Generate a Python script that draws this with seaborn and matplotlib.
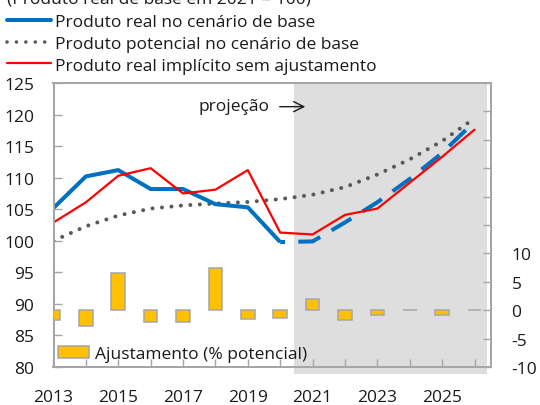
import matplotlib
matplotlib.use("Agg")
import matplotlib.pyplot as plt
import matplotlib.transforms as mtransforms
from matplotlib.patches import Rectangle, Patch
from matplotlib.lines import Line2D
import seaborn as sns
import pandas as pd

# ---- data ----
years = list(range(2013, 2027))
real_base = [105.2, 110.2, 111.2, 108.2, 108.2, 105.8, 105.3, 99.8,
             99.9, 102.9, 106.1, 109.8, 113.9, 118.9]
potential_base = [100.0, 102.3, 104.0, 105.1, 105.6, 105.9, 106.15, 106.6,
                  107.3, 108.5, 110.5, 112.9, 115.8, 119.4]
real_no_adj = [102.9, 106.1, 110.3, 111.5, 107.5, 108.1, 111.2, 101.3,
               101.0, 104.1, 105.1, 109.2, 113.3, 117.6]
adjustment = [-1.7, -2.8, 6.6, -2.0, -2.0, 7.5, -1.6, -1.4,
              2.0, -1.8, -0.8, 0.0, -0.9, 0.1]
last_actual = 2020
proj_start = 2020.42

left_ticks = list(range(80, 130, 5))
right_labelled = [-10, -5, 0, 5, 10]
xlabels_years = [2013, 2015, 2017, 2019, 2021, 2023, 2025]

title = "(Produto real de base em 2021 = 100)"
lab_real = "Produto real no cenário de base"
lab_pot = "Produto potencial no cenário de base"
lab_noadj = "Produto real implícito sem ajustamento"
lab_adj = "Ajustamento (% potencial)"

df = pd.DataFrame({"year": years, "real": real_base, "pot": potential_base,
                   "noadj": real_no_adj, "adj": adjustment})

# ---- style ----
sns.set_style("white")
plt.rcParams["font.family"] = ["Open Sans", "DejaVu Sans"]
FS = 12.5
TXT = "#1a1a1a"
FRAME = "#a6a6a6"
BLUE = "#0070C0"
RED = "#FF0000"
DOT = "#595959"
BAR = "#FFC000"
SHADE = "#dedede"
DOTTED = (0, (0.01, 2.35))

W, H = 540, 406
fig = plt.figure(figsize=(W / 100, H / 100), dpi=100)
x0, x1, y0, y1 = 53.5, 490.7, 84, 368
ax = fig.add_axes([x0 / W, 1 - y1 / H, (x1 - x0) / W, (y1 - y0) / H])

# projection shading (extends slightly below the frame)
trans = mtransforms.blended_transform_factory(ax.transData, ax.transAxes)
ax.add_patch(Rectangle((proj_start, -0.025), 2026.4 - proj_start, 1.025,
                       transform=trans, facecolor=SHADE, edgecolor="none",
                       zorder=0, clip_on=False))

hist = df[df.year <= last_actual]
proj = df[df.year >= last_actual]

sns.lineplot(data=hist, x="year", y="real", ax=ax, color=BLUE, lw=2.9,
             solid_capstyle="butt", legend=False, zorder=4)
sns.lineplot(data=proj, x="year", y="real", ax=ax, color=BLUE, lw=2.9,
             linestyle=(4.5, (5.7, 3.3)), dash_capstyle="butt",
             legend=False, zorder=4)
sns.lineplot(data=df, x="year", y="pot", ax=ax, color=DOT, lw=2.9,
             linestyle=DOTTED, dash_capstyle="round",
             legend=False, zorder=3)
sns.lineplot(data=df, x="year", y="noadj", ax=ax, color=RED, lw=1.6,
             legend=False, zorder=5)

ax.set_ylim(80, 125)
ax.set_yticks(left_ticks)
ax.set_yticklabels([str(v) for v in left_ticks])
ax.set_xlabel("")
ax.set_ylabel("")

# adjustment bars on the secondary axis
ax2 = ax.twinx()
sns.barplot(data=df, x="year", y="adj", ax=ax2, native_scale=True,
            width=0.42, color=BAR, saturation=1, edgecolor=FRAME,
            linewidth=1.1, errorbar=None, zorder=3)
ax2.set_ylim(-10, 40)
ax2.set_yticks(list(range(-10, 45, 5)))
ax2.set_yticklabels([str(v) if v in right_labelled else "" for v in range(-10, 45, 5)])
ax2.set_xlabel("")
ax2.set_ylabel("")

ax.set_xlim(2013, 2026.5)
ax.set_xticks(years)
ax.set_xticklabels([str(y) if y in xlabels_years else "" for y in years])

for a in (ax, ax2):
    for s in a.spines.values():
        s.set_color(FRAME)
        s.set_linewidth(1.4)
    a.grid(False)
ax.tick_params(axis="y", direction="in", length=6, width=1, color=FRAME,
               labelsize=FS, labelcolor=TXT, pad=14, left=True)
ax.tick_params(axis="x", direction="in", length=6, width=1, color=FRAME,
               labelsize=FS, labelcolor=TXT, pad=16, bottom=True)
ax2.tick_params(axis="y", direction="in", length=6, width=1, color=FRAME,
                labelsize=FS, labelcolor=TXT, pad=15, right=True)
ax2.patch.set_visible(False)

# projection marker
ax.annotate("", xy=(2020.86, 121.25), xytext=(2019.9, 121.25),
            arrowprops=dict(arrowstyle="->", color=TXT, lw=1.0,
                            mutation_scale=18))
ax.text(2019.68, 121.4, "projeção", ha="right", va="center",
        fontsize=FS, color=TXT)

# legends
handles = [
    Line2D([], [], color=BLUE, lw=2.9),
    Line2D([], [], color=DOT, lw=2.6, linestyle=(0, (0.01, 2.6)),
           dash_capstyle="round"),
    Line2D([], [], color=RED, lw=1.6),
]
fig.legend(handles, [lab_real, lab_pot, lab_noadj], loc="upper left",
           bbox_to_anchor=(7 / W, 1 - 15 / H), frameon=False, fontsize=FS,
           handlelength=2.55, handletextpad=0.2, labelspacing=0.32,
           borderpad=0, borderaxespad=0, labelcolor=TXT)

ax2.legend([Patch(facecolor=BAR, edgecolor=FRAME, linewidth=1.1)], [lab_adj],
           loc="lower left", bbox_to_anchor=(4 / (x1 - x0), 5 / (y1 - y0)),
           frameon=False, fontsize=FS, handlelength=1.8, handleheight=0.75,
           handletextpad=0.35, borderpad=0, borderaxespad=0, labelcolor=TXT)

fig.text(7 / W, 1 - 3.5 / H, title, ha="left", va="baseline",
         fontsize=FS, color=TXT)

fig.savefig("out.png", dpi=100)
